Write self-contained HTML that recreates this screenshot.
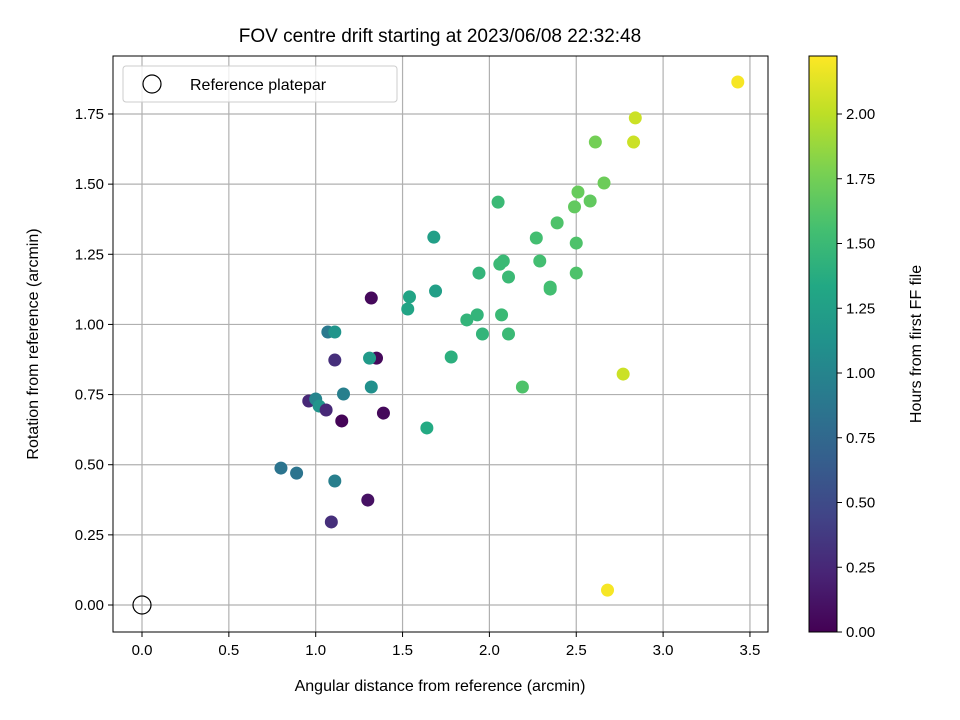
<!DOCTYPE html>
<html><head><meta charset="utf-8"><style>
body{margin:0;background:#fff;}
svg{display:block;font-family:"Liberation Sans","DejaVu Sans",sans-serif;}
</style></head><body>
<svg id="chart" width="960" height="720">
<defs>
<linearGradient id="vir" x1="0" y1="1" x2="0" y2="0">
<stop offset="0" stop-color="#440154"/><stop offset="0.1" stop-color="#482475"/><stop offset="0.2" stop-color="#414487"/><stop offset="0.3" stop-color="#355f8d"/><stop offset="0.4" stop-color="#2a788e"/><stop offset="0.5" stop-color="#21918c"/><stop offset="0.6" stop-color="#22a884"/><stop offset="0.7" stop-color="#44bf70"/><stop offset="0.8" stop-color="#7ad151"/><stop offset="0.9" stop-color="#bddf26"/><stop offset="1" stop-color="#fde725"/>
</linearGradient>
<clipPath id="clip"><rect x="113" y="56" width="655" height="576"/></clipPath>
</defs>
<text x="440" y="42" text-anchor="middle" font-size="19">FOV centre drift starting at 2023/06/08 22:32:48</text>
<g id="grid"></g>
<g id="points" clip-path="url(#clip)"></g>
<rect x="113" y="56" width="655" height="576" fill="none" stroke="#000" stroke-width="1"/>
<g id="xticks"></g><g id="yticks"></g>
<text x="440" y="691" text-anchor="middle" font-size="16">Angular distance from reference (arcmin)</text>
<text transform="translate(38,344) rotate(-90)" text-anchor="middle" font-size="16">Rotation from reference (arcmin)</text>
<g>
<rect x="123" y="66" width="274" height="36" rx="3" fill="#fff" fill-opacity="0.8" stroke="#ccc"/>
<circle cx="152" cy="84" r="9" fill="none" stroke="#000" stroke-width="1.2"/>
<text x="190" y="90" font-size="16">Reference platepar</text>
</g>
<rect x="809" y="56" width="28" height="576" fill="url(#vir)" stroke="#000"/>
<g id="cticks"></g>
<text transform="translate(921,344) rotate(-90)" text-anchor="middle" font-size="16">Hours from first FF file</text>
</svg>
<script>
const xs=[3.43,2.84,2.83,2.61,2.66,2.51,2.58,2.49,2.05,2.39,2.27,1.68,2.50,2.06,2.08,2.29,1.94,2.11,2.50,2.35,2.35,1.32,1.54,1.69,1.53,1.87,1.93,2.07,1.96,2.11,1.07,1.11,1.11,1.35,1.31,1.78,2.77,2.19,1.32,1.16,0.96,1.00,1.02,1.06,1.39,1.15,1.64,0.80,0.89,1.11,1.30,1.09,2.68];
const ys=[1.864,1.736,1.650,1.650,1.504,1.472,1.440,1.419,1.436,1.362,1.308,1.311,1.290,1.215,1.226,1.226,1.183,1.169,1.183,1.133,1.126,1.094,1.098,1.119,1.055,1.016,1.034,1.034,0.966,0.966,0.973,0.973,0.873,0.880,0.880,0.884,0.823,0.777,0.777,0.752,0.727,0.734,0.709,0.695,0.684,0.656,0.631,0.488,0.470,0.442,0.374,0.296,0.053];
const hours=[2.2,2.05,2.05,1.75,1.72,1.7,1.68,1.68,1.5,1.6,1.55,1.25,1.6,1.5,1.5,1.55,1.45,1.5,1.6,1.55,1.55,0.05,1.3,1.25,1.3,1.45,1.45,1.5,1.45,1.5,0.9,1.15,0.3,0.05,1.2,1.4,2.05,1.6,1.1,0.95,0.25,1.0,1.15,0.25,0.05,0.02,1.35,0.85,0.85,0.95,0.1,0.3,2.2];
const xTicks=[0.0,0.5,1.0,1.5,2.0,2.5,3.0,3.5];
const yTicks=[0.00,0.25,0.50,0.75,1.00,1.25,1.50,1.75];
const cTicks=[0.00,0.25,0.50,0.75,1.00,1.25,1.50,1.75,2.00];
const X=v=>142+v*173.7, Y=v=>605-v*280.57, C=v=>632-v*259;
const NS="http://www.w3.org/2000/svg";
function mk(t,a,p){const e=document.createElementNS(NS,t);for(const k in a)e.setAttribute(k,a[k]);p.appendChild(e);return e;}
const stops=[[68,1,84],[72,36,117],[65,68,135],[53,95,141],[42,120,142],[33,145,140],[34,168,132],[68,191,112],[122,209,81],[189,223,38],[253,231,37]];
function vir(t){t=Math.max(0,Math.min(1,t))*(stops.length-1);const i=Math.min(Math.floor(t),stops.length-2),f=t-i;const c=stops[i].map((a,k)=>Math.round(a+(stops[i+1][k]-a)*f));return `rgb(${c})`;}
const grid=document.getElementById('grid'),gx=document.getElementById('xticks'),gy=document.getElementById('yticks'),gc=document.getElementById('cticks'),gp=document.getElementById('points');
xTicks.forEach(v=>{const x=X(v);
const l=mk('line',{x1:x,x2:x,y1:56,y2:632,stroke:'#b0b0b0','stroke-width':1.2},grid);


mk('line',{x1:x,x2:x,y1:632,y2:637,stroke:'#000'},gx);
const t=mk('text',{x:x,y:655,'text-anchor':'middle','font-size':15},gx);t.textContent=v.toFixed(1);

});
yTicks.forEach(v=>{const y=Y(v);
const l=mk('line',{x1:113,x2:768,y1:y,y2:y,stroke:'#b0b0b0','stroke-width':1.2},grid);


mk('line',{x1:108,x2:113,y1:y,y2:y,stroke:'#000'},gy);
const t=mk('text',{x:104,y:y+5,'text-anchor':'end','font-size':15},gy);t.textContent=v.toFixed(2);

});
cTicks.forEach(v=>{const y=C(v);
mk('line',{x1:837,x2:842,y1:y,y2:y,stroke:'#000'},gc);
const t=mk('text',{x:846,y:y+5,'font-size':15},gc);t.textContent=v.toFixed(2);

});
xs.forEach((v,i)=>{const c=mk('circle',{cx:X(v),cy:Y(ys[i]),r:6.5,fill:vir(hours[i]/2.224)},gp);

});
const r=mk('circle',{cx:X(0),cy:Y(0),r:9,fill:'none',stroke:'#000','stroke-width':1.2},gp);


</script>
</body></html>
